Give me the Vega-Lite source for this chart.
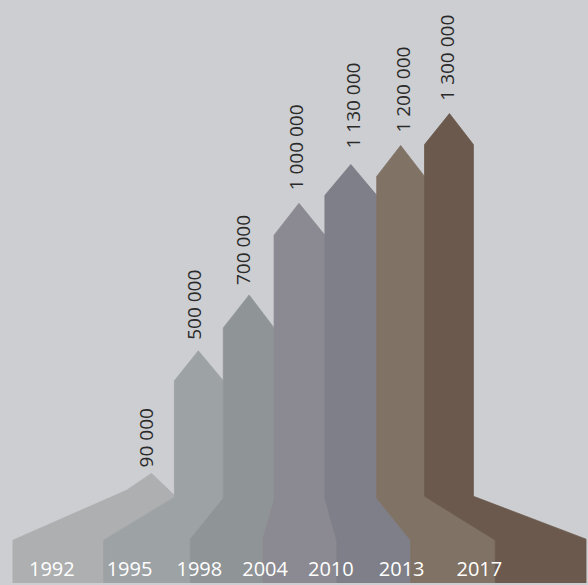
{
  "$schema": "https://vega.github.io/schema/vega-lite/v6.json",
  "width": 588,
  "height": 585,
  "autosize": {"type": "fit", "contains": "padding"},
  "padding": 0,
  "background": "#cdced1",
  "config": {"view": {"stroke": null}},
  "datasets": {
    "shapes": [
      {"year": "1992", "i": 1, "x": 13, "y": 0, "color": "#adafb0"},
      {"year": "1992", "i": 2, "x": 13, "y": 43, "color": "#adafb0"},
      {"year": "1992", "i": 3, "x": 127, "y": 93, "color": "#adafb0"},
      {"year": "1992", "i": 4, "x": 152, "y": 110, "color": "#adafb0"},
      {"year": "1992", "i": 5, "x": 176, "y": 87, "color": "#adafb0"},
      {"year": "1992", "i": 6, "x": 104, "y": 43, "color": "#adafb0"},
      {"year": "1992", "i": 7, "x": 104, "y": 0, "color": "#adafb0"},

      {"year": "1995", "i": 1, "x": 104, "y": 0, "color": "#9da2a5"},
      {"year": "1995", "i": 2, "x": 104, "y": 43, "color": "#9da2a5"},
      {"year": "1995", "i": 3, "x": 175, "y": 86, "color": "#9da2a5"},
      {"year": "1995", "i": 4, "x": 175, "y": 203, "color": "#9da2a5"},
      {"year": "1995", "i": 5, "x": 199, "y": 233, "color": "#9da2a5"},
      {"year": "1995", "i": 6, "x": 224, "y": 203, "color": "#9da2a5"},
      {"year": "1995", "i": 7, "x": 224, "y": 85, "color": "#9da2a5"},
      {"year": "1995", "i": 8, "x": 191, "y": 44, "color": "#9da2a5"},
      {"year": "1995", "i": 9, "x": 191, "y": 0, "color": "#9da2a5"},

      {"year": "1998", "i": 1, "x": 191, "y": 0, "color": "#8f9497"},
      {"year": "1998", "i": 2, "x": 191, "y": 44, "color": "#8f9497"},
      {"year": "1998", "i": 3, "x": 224, "y": 85, "color": "#8f9497"},
      {"year": "1998", "i": 4, "x": 224, "y": 256, "color": "#8f9497"},
      {"year": "1998", "i": 5, "x": 250, "y": 289, "color": "#8f9497"},
      {"year": "1998", "i": 6, "x": 275, "y": 256, "color": "#8f9497"},
      {"year": "1998", "i": 7, "x": 275, "y": 83, "color": "#8f9497"},
      {"year": "1998", "i": 8, "x": 264, "y": 45, "color": "#8f9497"},
      {"year": "1998", "i": 9, "x": 264, "y": 0, "color": "#8f9497"},

      {"year": "2004", "i": 1, "x": 264, "y": 0, "color": "#8b8991"},
      {"year": "2004", "i": 2, "x": 264, "y": 45, "color": "#8b8991"},
      {"year": "2004", "i": 3, "x": 275, "y": 83, "color": "#8b8991"},
      {"year": "2004", "i": 4, "x": 275, "y": 349, "color": "#8b8991"},
      {"year": "2004", "i": 5, "x": 300, "y": 381, "color": "#8b8991"},
      {"year": "2004", "i": 6, "x": 326, "y": 349, "color": "#8b8991"},
      {"year": "2004", "i": 7, "x": 326, "y": 85, "color": "#8b8991"},
      {"year": "2004", "i": 8, "x": 338, "y": 42, "color": "#8b8991"},
      {"year": "2004", "i": 9, "x": 338, "y": 0, "color": "#8b8991"},

      {"year": "2010", "i": 1, "x": 338, "y": 0, "color": "#7e7f88"},
      {"year": "2010", "i": 2, "x": 338, "y": 42, "color": "#7e7f88"},
      {"year": "2010", "i": 3, "x": 326, "y": 85, "color": "#7e7f88"},
      {"year": "2010", "i": 4, "x": 326, "y": 389, "color": "#7e7f88"},
      {"year": "2010", "i": 5, "x": 352, "y": 420, "color": "#7e7f88"},
      {"year": "2010", "i": 6, "x": 378, "y": 389, "color": "#7e7f88"},
      {"year": "2010", "i": 7, "x": 378, "y": 85, "color": "#7e7f88"},
      {"year": "2010", "i": 8, "x": 412, "y": 43, "color": "#7e7f88"},
      {"year": "2010", "i": 9, "x": 412, "y": 0, "color": "#7e7f88"},

      {"year": "2013", "i": 1, "x": 412, "y": 0, "color": "#807265"},
      {"year": "2013", "i": 2, "x": 412, "y": 43, "color": "#807265"},
      {"year": "2013", "i": 3, "x": 378, "y": 85, "color": "#807265"},
      {"year": "2013", "i": 4, "x": 378, "y": 408, "color": "#807265"},
      {"year": "2013", "i": 5, "x": 402, "y": 439, "color": "#807265"},
      {"year": "2013", "i": 6, "x": 426, "y": 408, "color": "#807265"},
      {"year": "2013", "i": 7, "x": 426, "y": 87, "color": "#807265"},
      {"year": "2013", "i": 8, "x": 497, "y": 43, "color": "#807265"},
      {"year": "2013", "i": 9, "x": 497, "y": 0, "color": "#807265"},

      {"year": "2017", "i": 1, "x": 497, "y": 0, "color": "#6a594c"},
      {"year": "2017", "i": 2, "x": 497, "y": 43, "color": "#6a594c"},
      {"year": "2017", "i": 3, "x": 426, "y": 87, "color": "#6a594c"},
      {"year": "2017", "i": 4, "x": 426, "y": 440, "color": "#6a594c"},
      {"year": "2017", "i": 5, "x": 451, "y": 471, "color": "#6a594c"},
      {"year": "2017", "i": 6, "x": 475, "y": 440, "color": "#6a594c"},
      {"year": "2017", "i": 7, "x": 475, "y": 87, "color": "#6a594c"},
      {"year": "2017", "i": 8, "x": 588, "y": 44, "color": "#6a594c"},
      {"year": "2017", "i": 9, "x": 588, "y": 0, "color": "#6a594c"}
    ],
    "values": [
      {"label": "90 000", "x": 148, "y": 116},
      {"label": "500 000", "x": 196, "y": 244},
      {"label": "700 000", "x": 245, "y": 299},
      {"label": "1 000 000", "x": 298, "y": 394},
      {"label": "1 130 000", "x": 355, "y": 436},
      {"label": "1 200 000", "x": 405, "y": 452},
      {"label": "1 300 000", "x": 450, "y": 484}
    ],
    "years": [
      {"year": "1992", "x": 52, "y": 13},
      {"year": "1995", "x": 130, "y": 13},
      {"year": "1998", "x": 200, "y": 13},
      {"year": "2004", "x": 266, "y": 13},
      {"year": "2010", "x": 332, "y": 13},
      {"year": "2013", "x": 403, "y": 13},
      {"year": "2017", "x": 481, "y": 13}
    ]
  },
  "layer": [
    {
      "data": {"name": "shapes"},
      "mark": {"type": "line", "strokeWidth": 0.8, "strokeJoin": "miter"},
      "encoding": {
        "x": {"field": "x", "type": "quantitative", "scale": {"domain": [0, 588], "nice": false, "zero": false}, "axis": null},
        "y": {"field": "y", "type": "quantitative", "scale": {"domain": [0, 585], "nice": false, "zero": false}, "axis": null},
        "order": {"field": "i", "type": "quantitative"},
        "detail": {"field": "year", "type": "nominal"},
        "fill": {"field": "color", "type": "nominal", "scale": null},
        "stroke": {"field": "color", "type": "nominal", "scale": null}
      }
    },
    {
      "data": {"name": "values"},
      "mark": {"type": "text", "angle": 270, "align": "left", "baseline": "middle", "font": "Open Sans", "fontSize": 19, "color": "#2a2a2a"},
      "encoding": {
        "x": {"field": "x", "type": "quantitative"},
        "y": {"field": "y", "type": "quantitative"},
        "text": {"field": "label", "type": "nominal"}
      }
    },
    {
      "data": {"name": "years"},
      "mark": {"type": "text", "align": "center", "baseline": "middle", "font": "Open Sans", "fontSize": 20, "color": "#ffffff"},
      "encoding": {
        "x": {"field": "x", "type": "quantitative"},
        "y": {"field": "y", "type": "quantitative"},
        "text": {"field": "year", "type": "nominal"}
      }
    }
  ]
}
